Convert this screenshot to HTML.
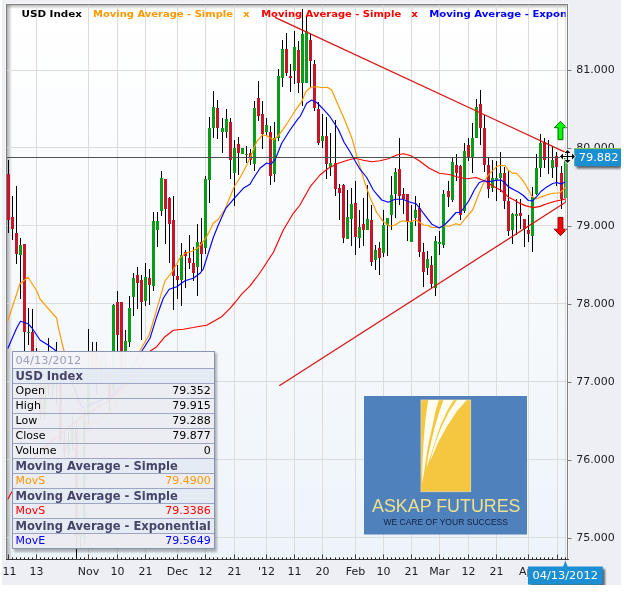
<!DOCTYPE html>
<html lang="en"><head><meta charset="utf-8"><title>USD Index chart</title>
<style>html,body{margin:0;padding:0;background:#fff}svg{display:block}text{font-family:'DejaVu Sans','Liberation Sans',sans-serif}</style></head><body>
<svg width="624" height="594" viewBox="0 0 624 594">
<defs>
<linearGradient id="bg" x1="0" y1="0" x2="0" y2="1"><stop offset="0" stop-color="#ffffff"/><stop offset="0.4" stop-color="#f9fbfd"/><stop offset="1" stop-color="#edf4fa"/></linearGradient>
<linearGradient id="sl" x1="0" y1="0" x2="1" y2="0"><stop offset="0" stop-color="#8c8c8c" stop-opacity="0.7"/><stop offset="1" stop-color="#8c8c8c" stop-opacity="0"/></linearGradient>
<linearGradient id="st" x1="0" y1="0" x2="0" y2="1"><stop offset="0" stop-color="#8c8c8c" stop-opacity="0.6"/><stop offset="1" stop-color="#8c8c8c" stop-opacity="0"/></linearGradient>
<clipPath id="plot"><rect x="7" y="5" width="560" height="554"/></clipPath>
<clipPath id="tip"><rect x="13" y="352" width="201" height="196"/></clipPath>
<filter id="sh" x="-20%" y="-20%" width="150%" height="160%"><feGaussianBlur stdDeviation="1.2"/></filter>
</defs>
<rect x="0" y="0" width="624" height="594" fill="#ffffff"/>
<rect x="2" y="0" width="619" height="585" fill="#eeeff5"/>
<rect x="5" y="3" width="564" height="557" fill="#f6f7fb"/>
<rect x="6" y="4" width="562" height="556" fill="url(#bg)"/>
<rect x="7" y="5" width="5" height="554" fill="url(#sl)"/>
<rect x="7" y="5" width="560" height="4" fill="url(#st)"/>
<g shape-rendering="crispEdges" fill="#dcdcdc">
<rect x="36" y="5" width="1" height="554"/>
<rect x="88" y="5" width="1" height="554"/>
<rect x="117" y="5" width="1" height="554"/>
<rect x="145" y="5" width="1" height="554"/>
<rect x="177" y="5" width="1" height="554"/>
<rect x="205" y="5" width="1" height="554"/>
<rect x="234" y="5" width="1" height="554"/>
<rect x="266" y="5" width="1" height="554"/>
<rect x="294" y="5" width="1" height="554"/>
<rect x="322" y="5" width="1" height="554"/>
<rect x="355" y="5" width="1" height="554"/>
<rect x="383" y="5" width="1" height="554"/>
<rect x="411" y="5" width="1" height="554"/>
<rect x="439" y="5" width="1" height="554"/>
<rect x="468" y="5" width="1" height="554"/>
<rect x="496" y="5" width="1" height="554"/>
<rect x="528" y="5" width="1" height="554"/>
<rect x="557" y="5" width="1" height="554"/>
<rect x="7" y="70" width="560" height="1"/>
<rect x="7" y="147" width="560" height="1"/>
<rect x="7" y="225" width="560" height="1"/>
<rect x="7" y="303" width="560" height="1"/>
<rect x="7" y="381" width="560" height="1"/>
<rect x="7" y="459" width="560" height="1"/>
<rect x="7" y="537" width="560" height="1"/>
</g>
<clipPath id="lg"><rect x="7" y="5" width="559" height="20"/></clipPath>
<g clip-path="url(#lg)" font-weight="bold" font-size="9.5px">
<text x="21.50" y="17" fill="#000000" textLength="60.5" lengthAdjust="spacingAndGlyphs">USD Index</text>
<text x="93.00" y="17" fill="#ff9900" textLength="140.0" lengthAdjust="spacingAndGlyphs">Moving Average - Simple</text>
<text x="243.00" y="17" fill="#ff9900" textLength="6.7" lengthAdjust="spacingAndGlyphs">x</text>
<text x="261.20" y="17" fill="#ff0000" textLength="140.0" lengthAdjust="spacingAndGlyphs">Moving Average - Simple</text>
<text x="411.20" y="17" fill="#ff0000" textLength="6.7" lengthAdjust="spacingAndGlyphs">x</text>
<text x="429.20" y="17" fill="#0000ff" textLength="170.8" lengthAdjust="spacingAndGlyphs">Moving Average - Exponential</text>
</g>
<g clip-path="url(#plot)" shape-rendering="crispEdges">
<rect x="8" y="160" width="1" height="73" fill="#000"/>
<rect x="7" y="174" width="3" height="46" fill="#c4152b"/>
<rect x="12" y="196" width="1" height="44" fill="#000"/>
<rect x="11" y="217" width="3" height="12" fill="#c4152b"/>
<rect x="16" y="186" width="1" height="78" fill="#000"/>
<rect x="15" y="233" width="3" height="21" fill="#c4152b"/>
<rect x="20" y="238" width="1" height="61" fill="#000"/>
<rect x="19" y="245" width="3" height="10" fill="#0a9c18"/>
<rect x="24" y="244" width="1" height="118" fill="#000"/>
<rect x="23" y="244" width="3" height="88" fill="#c4152b"/>
<rect x="28" y="308" width="1" height="37" fill="#000"/>
<rect x="27" y="332" width="3" height="1" fill="#0a9c18"/>
<rect x="32" y="309" width="1" height="76" fill="#000"/>
<rect x="31" y="332" width="3" height="48" fill="#c4152b"/>
<rect x="36" y="348" width="1" height="42" fill="#000"/>
<rect x="35" y="370" width="3" height="10" fill="#0a9c18"/>
<rect x="40" y="380" width="1" height="40" fill="#000"/>
<rect x="39" y="384" width="3" height="31" fill="#c4152b"/>
<rect x="44" y="380" width="1" height="40" fill="#000"/>
<rect x="43" y="385" width="3" height="30" fill="#0a9c18"/>
<rect x="48" y="338" width="1" height="57" fill="#000"/>
<rect x="47" y="378" width="3" height="10" fill="#c4152b"/>
<rect x="52" y="368" width="1" height="32" fill="#000"/>
<rect x="51" y="378" width="3" height="8" fill="#0a9c18"/>
<rect x="56" y="342" width="1" height="63" fill="#000"/>
<rect x="55" y="380" width="3" height="4" fill="#0a9c18"/>
<rect x="60" y="375" width="1" height="70" fill="#000"/>
<rect x="59" y="384" width="3" height="56" fill="#c4152b"/>
<rect x="64" y="430" width="1" height="28" fill="#000"/>
<rect x="63" y="440" width="3" height="12" fill="#c4152b"/>
<rect x="68" y="432" width="1" height="30" fill="#000"/>
<rect x="67" y="440" width="3" height="10" fill="#0a9c18"/>
<rect x="72" y="415" width="1" height="35" fill="#000"/>
<rect x="71" y="428" width="3" height="14" fill="#0a9c18"/>
<rect x="76" y="420" width="1" height="139" fill="#000"/>
<rect x="75" y="428" width="3" height="108" fill="#c4152b"/>
<rect x="80" y="522" width="1" height="26" fill="#000"/>
<rect x="79" y="532" width="3" height="5" fill="#0a9c18"/>
<rect x="84" y="410" width="1" height="135" fill="#000"/>
<rect x="83" y="417" width="3" height="121" fill="#0a9c18"/>
<rect x="88" y="329" width="1" height="96" fill="#000"/>
<rect x="87" y="370" width="3" height="47" fill="#0a9c18"/>
<rect x="92" y="342" width="1" height="43" fill="#000"/>
<rect x="91" y="352" width="3" height="18" fill="#c4152b"/>
<rect x="96" y="342" width="1" height="53" fill="#000"/>
<rect x="95" y="355" width="3" height="17" fill="#c4152b"/>
<rect x="101" y="355" width="1" height="30" fill="#000"/>
<rect x="100" y="362" width="3" height="10" fill="#0a9c18"/>
<rect x="105" y="352" width="1" height="33" fill="#000"/>
<rect x="104" y="365" width="3" height="7" fill="#c4152b"/>
<rect x="109" y="365" width="1" height="45" fill="#000"/>
<rect x="108" y="372" width="3" height="28" fill="#c4152b"/>
<rect x="113" y="304" width="1" height="91" fill="#000"/>
<rect x="112" y="305" width="3" height="85" fill="#0a9c18"/>
<rect x="117" y="291" width="1" height="64" fill="#000"/>
<rect x="116" y="302" width="3" height="33" fill="#c4152b"/>
<rect x="121" y="302" width="1" height="70" fill="#000"/>
<rect x="120" y="302" width="3" height="66" fill="#c4152b"/>
<rect x="125" y="330" width="1" height="40" fill="#000"/>
<rect x="124" y="341" width="3" height="24" fill="#0a9c18"/>
<rect x="129" y="296" width="1" height="51" fill="#000"/>
<rect x="128" y="308" width="3" height="34" fill="#0a9c18"/>
<rect x="133" y="273" width="1" height="43" fill="#000"/>
<rect x="132" y="278" width="3" height="19" fill="#0a9c18"/>
<rect x="137" y="267" width="1" height="42" fill="#000"/>
<rect x="136" y="275" width="3" height="8" fill="#c4152b"/>
<rect x="141" y="275" width="1" height="65" fill="#000"/>
<rect x="140" y="280" width="3" height="22" fill="#c4152b"/>
<rect x="145" y="263" width="1" height="43" fill="#000"/>
<rect x="144" y="277" width="3" height="24" fill="#0a9c18"/>
<rect x="149" y="269" width="1" height="36" fill="#000"/>
<rect x="148" y="278" width="3" height="7" fill="#c4152b"/>
<rect x="153" y="212" width="1" height="79" fill="#000"/>
<rect x="152" y="221" width="3" height="65" fill="#0a9c18"/>
<rect x="157" y="212" width="1" height="35" fill="#000"/>
<rect x="156" y="221" width="3" height="9" fill="#0a9c18"/>
<rect x="161" y="171" width="1" height="45" fill="#000"/>
<rect x="160" y="178" width="3" height="33" fill="#0a9c18"/>
<rect x="165" y="179" width="1" height="65" fill="#000"/>
<rect x="164" y="179" width="3" height="30" fill="#c4152b"/>
<rect x="169" y="197" width="1" height="66" fill="#000"/>
<rect x="168" y="198" width="3" height="26" fill="#c4152b"/>
<rect x="173" y="196" width="1" height="114" fill="#000"/>
<rect x="172" y="220" width="3" height="56" fill="#c4152b"/>
<rect x="177" y="265" width="1" height="34" fill="#000"/>
<rect x="176" y="276" width="3" height="4" fill="#c4152b"/>
<rect x="181" y="243" width="1" height="63" fill="#000"/>
<rect x="180" y="255" width="3" height="25" fill="#0a9c18"/>
<rect x="185" y="250" width="1" height="38" fill="#000"/>
<rect x="184" y="252" width="3" height="4" fill="#c4152b"/>
<rect x="189" y="235" width="1" height="34" fill="#000"/>
<rect x="188" y="258" width="3" height="5" fill="#c4152b"/>
<rect x="193" y="247" width="1" height="34" fill="#000"/>
<rect x="192" y="263" width="3" height="10" fill="#c4152b"/>
<rect x="197" y="224" width="1" height="72" fill="#000"/>
<rect x="196" y="242" width="3" height="25" fill="#0a9c18"/>
<rect x="201" y="218" width="1" height="53" fill="#000"/>
<rect x="200" y="242" width="3" height="12" fill="#c4152b"/>
<rect x="205" y="176" width="1" height="78" fill="#000"/>
<rect x="204" y="179" width="3" height="69" fill="#0a9c18"/>
<rect x="209" y="117" width="1" height="86" fill="#000"/>
<rect x="208" y="128" width="3" height="52" fill="#0a9c18"/>
<rect x="213" y="91" width="1" height="47" fill="#000"/>
<rect x="212" y="107" width="3" height="21" fill="#0a9c18"/>
<rect x="217" y="100" width="1" height="39" fill="#000"/>
<rect x="216" y="108" width="3" height="20" fill="#c4152b"/>
<rect x="222" y="118" width="1" height="35" fill="#000"/>
<rect x="221" y="128" width="3" height="4" fill="#0a9c18"/>
<rect x="226" y="109" width="1" height="29" fill="#000"/>
<rect x="225" y="119" width="3" height="13" fill="#0a9c18"/>
<rect x="230" y="118" width="1" height="61" fill="#000"/>
<rect x="229" y="122" width="3" height="38" fill="#c4152b"/>
<rect x="234" y="140" width="1" height="66" fill="#000"/>
<rect x="233" y="148" width="3" height="25" fill="#0a9c18"/>
<rect x="238" y="137" width="1" height="38" fill="#000"/>
<rect x="237" y="144" width="3" height="9" fill="#c4152b"/>
<rect x="242" y="148" width="1" height="6" fill="#000"/>
<rect x="241" y="148" width="3" height="6" fill="#0a9c18"/>
<rect x="246" y="146" width="1" height="17" fill="#000"/>
<rect x="245" y="154" width="3" height="1" fill="#0a9c18"/>
<rect x="250" y="149" width="1" height="16" fill="#000"/>
<rect x="249" y="153" width="3" height="7" fill="#c4152b"/>
<rect x="254" y="101" width="1" height="70" fill="#000"/>
<rect x="253" y="108" width="3" height="56" fill="#0a9c18"/>
<rect x="258" y="81" width="1" height="40" fill="#000"/>
<rect x="257" y="98" width="3" height="18" fill="#c4152b"/>
<rect x="262" y="101" width="1" height="48" fill="#000"/>
<rect x="261" y="114" width="3" height="20" fill="#c4152b"/>
<rect x="266" y="118" width="1" height="17" fill="#000"/>
<rect x="265" y="125" width="3" height="7" fill="#0a9c18"/>
<rect x="270" y="126" width="1" height="59" fill="#000"/>
<rect x="269" y="132" width="3" height="44" fill="#c4152b"/>
<rect x="274" y="122" width="1" height="60" fill="#000"/>
<rect x="273" y="138" width="3" height="36" fill="#0a9c18"/>
<rect x="278" y="69" width="1" height="72" fill="#000"/>
<rect x="277" y="76" width="3" height="62" fill="#0a9c18"/>
<rect x="282" y="40" width="1" height="47" fill="#000"/>
<rect x="281" y="49" width="3" height="29" fill="#0a9c18"/>
<rect x="286" y="33" width="1" height="43" fill="#000"/>
<rect x="285" y="49" width="3" height="24" fill="#c4152b"/>
<rect x="290" y="64" width="1" height="28" fill="#000"/>
<rect x="289" y="76" width="3" height="2" fill="#c4152b"/>
<rect x="294" y="31" width="1" height="53" fill="#000"/>
<rect x="293" y="47" width="3" height="24" fill="#0a9c18"/>
<rect x="298" y="41" width="1" height="52" fill="#000"/>
<rect x="297" y="50" width="3" height="33" fill="#c4152b"/>
<rect x="302" y="9" width="1" height="97" fill="#000"/>
<rect x="301" y="34" width="3" height="49" fill="#0a9c18"/>
<rect x="306" y="17" width="1" height="66" fill="#000"/>
<rect x="305" y="31" width="3" height="52" fill="#0a9c18"/>
<rect x="310" y="34" width="1" height="53" fill="#000"/>
<rect x="309" y="40" width="3" height="21" fill="#c4152b"/>
<rect x="314" y="60" width="1" height="51" fill="#000"/>
<rect x="313" y="64" width="3" height="44" fill="#c4152b"/>
<rect x="318" y="102" width="1" height="43" fill="#000"/>
<rect x="317" y="109" width="3" height="34" fill="#c4152b"/>
<rect x="322" y="114" width="1" height="34" fill="#000"/>
<rect x="321" y="136" width="3" height="5" fill="#0a9c18"/>
<rect x="326" y="117" width="1" height="62" fill="#000"/>
<rect x="325" y="136" width="3" height="28" fill="#c4152b"/>
<rect x="330" y="133" width="1" height="43" fill="#000"/>
<rect x="329" y="163" width="3" height="4" fill="#0a9c18"/>
<rect x="335" y="120" width="1" height="76" fill="#000"/>
<rect x="334" y="163" width="3" height="26" fill="#c4152b"/>
<rect x="339" y="184" width="1" height="36" fill="#000"/>
<rect x="338" y="188" width="3" height="5" fill="#c4152b"/>
<rect x="343" y="184" width="1" height="59" fill="#000"/>
<rect x="342" y="185" width="3" height="53" fill="#c4152b"/>
<rect x="347" y="190" width="1" height="49" fill="#000"/>
<rect x="346" y="217" width="3" height="22" fill="#0a9c18"/>
<rect x="351" y="188" width="1" height="58" fill="#000"/>
<rect x="350" y="204" width="3" height="15" fill="#0a9c18"/>
<rect x="355" y="181" width="1" height="74" fill="#000"/>
<rect x="354" y="203" width="3" height="34" fill="#c4152b"/>
<rect x="359" y="210" width="1" height="38" fill="#000"/>
<rect x="358" y="227" width="3" height="11" fill="#0a9c18"/>
<rect x="363" y="198" width="1" height="48" fill="#000"/>
<rect x="362" y="224" width="3" height="6" fill="#c4152b"/>
<rect x="367" y="185" width="1" height="45" fill="#000"/>
<rect x="366" y="219" width="3" height="11" fill="#0a9c18"/>
<rect x="371" y="205" width="1" height="61" fill="#000"/>
<rect x="370" y="220" width="3" height="42" fill="#c4152b"/>
<rect x="375" y="245" width="1" height="25" fill="#000"/>
<rect x="374" y="250" width="3" height="10" fill="#0a9c18"/>
<rect x="379" y="242" width="1" height="33" fill="#000"/>
<rect x="378" y="248" width="3" height="10" fill="#c4152b"/>
<rect x="383" y="210" width="1" height="47" fill="#000"/>
<rect x="382" y="225" width="3" height="28" fill="#0a9c18"/>
<rect x="387" y="218" width="1" height="38" fill="#000"/>
<rect x="386" y="218" width="3" height="7" fill="#0a9c18"/>
<rect x="391" y="176" width="1" height="54" fill="#000"/>
<rect x="390" y="195" width="3" height="20" fill="#0a9c18"/>
<rect x="395" y="168" width="1" height="50" fill="#000"/>
<rect x="394" y="172" width="3" height="22" fill="#0a9c18"/>
<rect x="399" y="138" width="1" height="67" fill="#000"/>
<rect x="398" y="169" width="3" height="27" fill="#c4152b"/>
<rect x="403" y="188" width="1" height="26" fill="#000"/>
<rect x="402" y="194" width="3" height="5" fill="#c4152b"/>
<rect x="407" y="194" width="1" height="47" fill="#000"/>
<rect x="406" y="194" width="3" height="28" fill="#c4152b"/>
<rect x="411" y="205" width="1" height="37" fill="#000"/>
<rect x="410" y="222" width="3" height="20" fill="#0a9c18"/>
<rect x="415" y="196" width="1" height="30" fill="#000"/>
<rect x="414" y="210" width="3" height="8" fill="#0a9c18"/>
<rect x="419" y="203" width="1" height="54" fill="#000"/>
<rect x="418" y="208" width="3" height="44" fill="#c4152b"/>
<rect x="423" y="243" width="1" height="44" fill="#000"/>
<rect x="422" y="252" width="3" height="20" fill="#c4152b"/>
<rect x="427" y="251" width="1" height="24" fill="#000"/>
<rect x="426" y="259" width="3" height="9" fill="#0a9c18"/>
<rect x="431" y="256" width="1" height="32" fill="#000"/>
<rect x="430" y="265" width="3" height="19" fill="#c4152b"/>
<rect x="435" y="236" width="1" height="60" fill="#000"/>
<rect x="434" y="241" width="3" height="47" fill="#0a9c18"/>
<rect x="439" y="231" width="1" height="24" fill="#000"/>
<rect x="438" y="242" width="3" height="2" fill="#0a9c18"/>
<rect x="443" y="190" width="1" height="58" fill="#000"/>
<rect x="442" y="194" width="3" height="51" fill="#0a9c18"/>
<rect x="448" y="181" width="1" height="26" fill="#000"/>
<rect x="447" y="191" width="3" height="6" fill="#c4152b"/>
<rect x="452" y="158" width="1" height="44" fill="#000"/>
<rect x="451" y="162" width="3" height="38" fill="#0a9c18"/>
<rect x="456" y="154" width="1" height="27" fill="#000"/>
<rect x="455" y="165" width="3" height="8" fill="#c4152b"/>
<rect x="460" y="165" width="1" height="55" fill="#000"/>
<rect x="459" y="166" width="3" height="49" fill="#c4152b"/>
<rect x="464" y="143" width="1" height="70" fill="#000"/>
<rect x="463" y="151" width="3" height="60" fill="#0a9c18"/>
<rect x="468" y="138" width="1" height="23" fill="#000"/>
<rect x="467" y="145" width="3" height="12" fill="#c4152b"/>
<rect x="472" y="123" width="1" height="50" fill="#000"/>
<rect x="471" y="138" width="3" height="19" fill="#0a9c18"/>
<rect x="476" y="99" width="1" height="39" fill="#000"/>
<rect x="475" y="107" width="3" height="31" fill="#0a9c18"/>
<rect x="480" y="90" width="1" height="55" fill="#000"/>
<rect x="479" y="104" width="3" height="24" fill="#c4152b"/>
<rect x="484" y="115" width="1" height="57" fill="#000"/>
<rect x="483" y="128" width="3" height="37" fill="#c4152b"/>
<rect x="488" y="157" width="1" height="41" fill="#000"/>
<rect x="487" y="165" width="3" height="24" fill="#c4152b"/>
<rect x="492" y="160" width="1" height="32" fill="#000"/>
<rect x="491" y="178" width="3" height="10" fill="#0a9c18"/>
<rect x="496" y="161" width="1" height="40" fill="#000"/>
<rect x="495" y="178" width="3" height="2" fill="#0a9c18"/>
<rect x="500" y="152" width="1" height="40" fill="#000"/>
<rect x="499" y="173" width="3" height="5" fill="#0a9c18"/>
<rect x="504" y="167" width="1" height="42" fill="#000"/>
<rect x="503" y="173" width="3" height="28" fill="#c4152b"/>
<rect x="508" y="171" width="1" height="65" fill="#000"/>
<rect x="507" y="201" width="3" height="30" fill="#c4152b"/>
<rect x="512" y="213" width="1" height="31" fill="#000"/>
<rect x="511" y="214" width="3" height="16" fill="#0a9c18"/>
<rect x="516" y="199" width="1" height="36" fill="#000"/>
<rect x="515" y="214" width="3" height="2" fill="#0a9c18"/>
<rect x="520" y="199" width="1" height="30" fill="#000"/>
<rect x="519" y="213" width="3" height="3" fill="#c4152b"/>
<rect x="524" y="219" width="1" height="28" fill="#000"/>
<rect x="523" y="219" width="3" height="10" fill="#c4152b"/>
<rect x="528" y="215" width="1" height="27" fill="#000"/>
<rect x="527" y="230" width="3" height="4" fill="#c4152b"/>
<rect x="532" y="187" width="1" height="65" fill="#000"/>
<rect x="531" y="197" width="3" height="39" fill="#0a9c18"/>
<rect x="536" y="154" width="1" height="41" fill="#000"/>
<rect x="535" y="168" width="3" height="26" fill="#0a9c18"/>
<rect x="540" y="134" width="1" height="43" fill="#000"/>
<rect x="539" y="143" width="3" height="25" fill="#0a9c18"/>
<rect x="544" y="138" width="1" height="30" fill="#000"/>
<rect x="543" y="142" width="3" height="18" fill="#c4152b"/>
<rect x="548" y="140" width="1" height="34" fill="#000"/>
<rect x="552" y="147" width="1" height="31" fill="#000"/>
<rect x="551" y="160" width="3" height="8" fill="#0a9c18"/>
<rect x="556" y="152" width="1" height="34" fill="#000"/>
<rect x="555" y="156" width="3" height="11" fill="#c4152b"/>
<rect x="561" y="166" width="1" height="43" fill="#000"/>
<rect x="560" y="173" width="3" height="26" fill="#c4152b"/>
<rect x="565" y="154" width="1" height="49" fill="#000"/>
<rect x="564" y="157" width="3" height="41" fill="#0a9c18"/>
</g>
<g clip-path="url(#plot)">
<polyline points="8.0,499.0 10.0,495.0 30.0,462.0 48.0,444.0 82.0,417.0 110.0,400.0 130.0,380.0 150.0,351.3 156.7,346.7 165.0,336.7 173.3,330.3 183.3,329.2 193.3,327.5 200.0,326.2 206.7,325.3 221.7,316.7 230.0,308.3 235.0,302.5 241.7,294.2 250.0,285.8 258.3,275.0 262.5,269.0 268.3,260.0 273.3,252.5 283.3,230.0 293.3,213.3 300.0,205.0 303.3,199.0 310.8,185.8 320.0,175.0 328.3,168.3 338.3,163.3 348.3,160.0 355.0,158.3 363.3,160.3 371.7,161.7 380.0,160.8 388.3,158.8 396.7,155.0 403.5,153.7 411.0,155.8 419.3,160.8 429.3,168.3 439.3,173.3 449.3,174.5 459.3,177.5 467.7,178.7 476.0,177.5 484.3,180.8 488.0,182.8 492.2,185.4 496.4,187.9 500.6,190.0 504.8,193.8 509.0,197.6 513.3,199.6 520.0,203.4 525.9,205.9 533.5,207.6 540.0,206.4 546.8,203.7 555.3,201.2 565.5,199.1" fill="none" stroke="#ff0000" stroke-width="1.15" stroke-linejoin="round" stroke-linecap="round"/>
<polyline points="8.0,320.2 20.0,283.7 28.0,277.3 36.7,290.7 40.0,299.0 45.0,304.8 56.7,318.0 58.3,327.3 64.0,351.0 70.0,375.0 80.0,410.0 88.0,425.0 100.0,420.0 112.0,410.0 125.0,385.0 139.5,351.3 149.2,335.0 157.5,306.7 165.0,280.8 171.7,272.5 176.7,264.0 179.7,258.3 185.0,253.3 190.8,251.7 195.8,249.2 200.0,245.8 206.7,236.7 213.3,223.3 218.3,219.2 225.0,209.2 234.2,186.7 239.2,179.0 244.2,170.0 250.0,158.3 256.7,141.7 262.5,135.0 266.7,135.8 273.3,140.0 278.3,135.8 286.7,124.2 295.0,110.8 301.7,101.7 305.8,91.7 310.8,87.2 316.7,86.7 322.5,87.8 327.5,87.2 331.7,90.0 336.7,101.7 345.0,120.8 351.7,137.5 357.5,158.3 365.0,183.3 370.0,197.5 376.7,212.5 383.3,221.7 390.0,226.3 395.0,225.0 400.0,221.7 402.7,220.8 409.3,221.7 416.0,220.0 423.5,225.0 427.7,225.3 431.8,227.5 439.3,227.5 444.3,225.8 449.3,226.2 456.0,223.7 460.2,225.0 466.0,217.5 472.7,210.0 477.7,196.7 482.7,185.0 488.0,175.3 491.4,171.9 496.4,166.8 499.8,165.3 504.8,165.6 508.2,170.2 512.4,173.1 516.6,173.4 520.8,177.8 525.0,183.7 528.4,189.6 531.8,196.3 536.3,199.1 540.9,197.0 546.8,194.9 552.7,193.2 559.5,192.8 562.0,191.1 565.5,187.3" fill="none" stroke="#ff9900" stroke-width="1.15" stroke-linejoin="round" stroke-linecap="round"/>
<polyline points="8.0,348.0 16.7,328.0 20.5,321.2 28.0,323.7 32.0,328.0 40.0,340.0 48.0,345.0 55.0,350.0 64.0,365.0 73.0,384.0 82.0,408.0 97.7,401.6 113.0,395.0 125.0,380.0 141.7,351.3 150.0,338.3 156.7,316.7 163.3,298.3 169.2,289.2 176.7,286.7 185.0,280.8 193.3,278.3 200.0,273.3 203.3,269.0 213.3,237.5 218.3,225.0 225.8,208.3 234.2,198.3 243.3,188.3 250.0,184.2 253.0,179.0 260.0,168.3 266.7,163.0 270.8,164.2 275.0,160.0 281.7,143.3 290.0,130.0 298.3,118.3 300.0,116.7 306.7,103.3 311.7,100.0 316.7,102.5 323.3,109.2 330.0,116.7 338.3,129.2 344.2,142.5 350.0,151.7 355.0,160.8 360.0,169.2 366.7,177.5 373.3,190.0 376.7,194.2 381.7,200.0 388.3,202.2 395.0,199.2 402.7,199.2 411.0,202.5 416.0,203.7 421.0,210.0 426.0,216.7 431.8,224.2 439.3,228.0 444.3,225.0 449.3,220.0 456.0,212.5 460.2,212.5 464.3,207.5 469.3,200.0 474.3,190.0 479.3,182.5 484.3,180.8 488.0,181.6 492.2,181.1 496.4,180.3 500.6,180.1 504.0,182.0 508.2,186.6 513.3,189.6 518.3,192.1 523.4,195.5 528.4,200.5 532.6,200.9 536.7,196.6 540.9,191.5 546.8,186.9 552.7,183.5 556.9,182.5 560.7,183.9 565.5,182.0" fill="none" stroke="#0000ff" stroke-width="1.15" stroke-linejoin="round" stroke-linecap="round"/>
<line x1="275" y1="17.4" x2="565.5" y2="152.4" stroke="#d81414" stroke-width="1.25"/>
<line x1="279.3" y1="385.8" x2="565.5" y2="202.3" stroke="#d81414" stroke-width="1.25"/>
</g>
<path d="M560.5 121.3 L566.7 127.7 L562.9 127.7 L562.9 139.7 L558.1 139.7 L558.1 127.7 L554.3 127.7 Z" fill="#00ff00" stroke="#0a6a0a" stroke-width="1" stroke-linejoin="miter"/>
<path d="M560.5 235.7 L566.7 229.2 L562.9 229.2 L562.9 217.4 L558.1 217.4 L558.1 229.2 L554.3 229.2 Z" fill="#ff0000" stroke="#900000" stroke-width="1" stroke-linejoin="miter"/>
<rect x="565" y="5" width="1" height="554" fill="#c8c8c8" opacity="0.55" shape-rendering="crispEdges"/>
<rect x="566" y="5" width="1" height="554" fill="#ffffff" opacity="0.25" shape-rendering="crispEdges"/>
<rect x="7" y="157" width="556" height="1" fill="#505050" shape-rendering="crispEdges"/>
<g>
<rect x="364" y="396" width="163" height="138.5" fill="#4f81bd"/>
<rect x="421" y="400" width="49.7" height="91.7" fill="#f5c63f" stroke="#ead9a0" stroke-width="0.8"/>
<clipPath id="yl"><rect x="421" y="400" width="49.7" height="91.7"/></clipPath>
<g clip-path="url(#yl)" fill="#fffdf0">
<polygon points="428.4,399.5 426.5,411.2 424.8,426.3 423.6,441.5 422.8,456.6 422.3,471.8 422.2,483.0 424.2,471.8 426.3,456.6 428.9,441.5 432.4,426.3 435.5,411.2 439.0,399.5"/>
<polygon points="443.6,399.5 439.5,411.2 435.0,426.3 431.2,441.5 428.0,456.6 426.6,468.0 430.4,456.6 435.0,441.5 440.2,426.3 447.0,411.2 453.9,399.5"/>
<polygon points="457.2,399.5 449.3,411.2 441.8,426.3 435.7,441.5 432.0,453.5 430.4,461.0 433.4,453.5 438.7,441.5 447.0,426.3 456.9,411.2 467.2,399.5"/>
</g>
<text x="372" y="512.2" style="font-family:'Liberation Sans',sans-serif" font-size="18px" fill="#efe08e" textLength="148.5" lengthAdjust="spacingAndGlyphs">ASKAP FUTURES</text>
<text x="383.4" y="525.4" style="font-family:'Liberation Sans',sans-serif" font-size="8.6px" fill="#14213f" textLength="124.6" lengthAdjust="spacingAndGlyphs">WE CARE OF YOUR SUCCESS</text>
</g>
<g shape-rendering="crispEdges">
<rect x="6" y="4" width="562" height="1" fill="#808080"/>
<rect x="6" y="4" width="1" height="556" fill="#808080"/>
<rect x="567" y="4" width="1" height="556" fill="#808080"/>
<rect x="6" y="559" width="563" height="1" fill="#3a3a3a"/>
</g><g shape-rendering="crispEdges">
<rect x="8" y="555" width="1" height="4" fill="#222" opacity="0.85"/>
<rect x="8" y="554" width="1" height="1" fill="#222" opacity="0.45"/>
<rect x="12" y="558" width="1" height="1" fill="#111"/>
<rect x="12" y="557" width="1" height="1" fill="#111" opacity="0.55"/>
<rect x="16" y="558" width="1" height="1" fill="#111"/>
<rect x="16" y="557" width="1" height="1" fill="#111" opacity="0.55"/>
<rect x="20" y="558" width="1" height="1" fill="#111"/>
<rect x="20" y="557" width="1" height="1" fill="#111" opacity="0.55"/>
<rect x="24" y="558" width="1" height="1" fill="#111"/>
<rect x="24" y="557" width="1" height="1" fill="#111" opacity="0.55"/>
<rect x="28" y="558" width="1" height="1" fill="#111"/>
<rect x="28" y="557" width="1" height="1" fill="#111" opacity="0.55"/>
<rect x="32" y="558" width="1" height="1" fill="#111"/>
<rect x="32" y="557" width="1" height="1" fill="#111" opacity="0.55"/>
<rect x="36" y="555" width="1" height="4" fill="#222" opacity="0.85"/>
<rect x="36" y="554" width="1" height="1" fill="#222" opacity="0.45"/>
<rect x="40" y="558" width="1" height="1" fill="#111"/>
<rect x="40" y="557" width="1" height="1" fill="#111" opacity="0.55"/>
<rect x="44" y="558" width="1" height="1" fill="#111"/>
<rect x="44" y="557" width="1" height="1" fill="#111" opacity="0.55"/>
<rect x="48" y="558" width="1" height="1" fill="#111"/>
<rect x="48" y="557" width="1" height="1" fill="#111" opacity="0.55"/>
<rect x="52" y="558" width="1" height="1" fill="#111"/>
<rect x="52" y="557" width="1" height="1" fill="#111" opacity="0.55"/>
<rect x="56" y="558" width="1" height="1" fill="#111"/>
<rect x="56" y="557" width="1" height="1" fill="#111" opacity="0.55"/>
<rect x="60" y="558" width="1" height="1" fill="#111"/>
<rect x="60" y="557" width="1" height="1" fill="#111" opacity="0.55"/>
<rect x="64" y="558" width="1" height="1" fill="#111"/>
<rect x="64" y="557" width="1" height="1" fill="#111" opacity="0.55"/>
<rect x="68" y="558" width="1" height="1" fill="#111"/>
<rect x="68" y="557" width="1" height="1" fill="#111" opacity="0.55"/>
<rect x="72" y="558" width="1" height="1" fill="#111"/>
<rect x="72" y="557" width="1" height="1" fill="#111" opacity="0.55"/>
<rect x="76" y="558" width="1" height="1" fill="#111"/>
<rect x="76" y="557" width="1" height="1" fill="#111" opacity="0.55"/>
<rect x="80" y="558" width="1" height="1" fill="#111"/>
<rect x="80" y="557" width="1" height="1" fill="#111" opacity="0.55"/>
<rect x="84" y="558" width="1" height="1" fill="#111"/>
<rect x="84" y="557" width="1" height="1" fill="#111" opacity="0.55"/>
<rect x="88" y="555" width="1" height="4" fill="#222" opacity="0.85"/>
<rect x="88" y="554" width="1" height="1" fill="#222" opacity="0.45"/>
<rect x="92" y="558" width="1" height="1" fill="#111"/>
<rect x="92" y="557" width="1" height="1" fill="#111" opacity="0.55"/>
<rect x="96" y="558" width="1" height="1" fill="#111"/>
<rect x="96" y="557" width="1" height="1" fill="#111" opacity="0.55"/>
<rect x="101" y="558" width="1" height="1" fill="#111"/>
<rect x="101" y="557" width="1" height="1" fill="#111" opacity="0.55"/>
<rect x="105" y="558" width="1" height="1" fill="#111"/>
<rect x="105" y="557" width="1" height="1" fill="#111" opacity="0.55"/>
<rect x="109" y="558" width="1" height="1" fill="#111"/>
<rect x="109" y="557" width="1" height="1" fill="#111" opacity="0.55"/>
<rect x="113" y="558" width="1" height="1" fill="#111"/>
<rect x="113" y="557" width="1" height="1" fill="#111" opacity="0.55"/>
<rect x="117" y="555" width="1" height="4" fill="#222" opacity="0.85"/>
<rect x="117" y="554" width="1" height="1" fill="#222" opacity="0.45"/>
<rect x="121" y="558" width="1" height="1" fill="#111"/>
<rect x="121" y="557" width="1" height="1" fill="#111" opacity="0.55"/>
<rect x="125" y="558" width="1" height="1" fill="#111"/>
<rect x="125" y="557" width="1" height="1" fill="#111" opacity="0.55"/>
<rect x="129" y="558" width="1" height="1" fill="#111"/>
<rect x="129" y="557" width="1" height="1" fill="#111" opacity="0.55"/>
<rect x="133" y="558" width="1" height="1" fill="#111"/>
<rect x="133" y="557" width="1" height="1" fill="#111" opacity="0.55"/>
<rect x="137" y="558" width="1" height="1" fill="#111"/>
<rect x="137" y="557" width="1" height="1" fill="#111" opacity="0.55"/>
<rect x="141" y="558" width="1" height="1" fill="#111"/>
<rect x="141" y="557" width="1" height="1" fill="#111" opacity="0.55"/>
<rect x="145" y="555" width="1" height="4" fill="#222" opacity="0.85"/>
<rect x="145" y="554" width="1" height="1" fill="#222" opacity="0.45"/>
<rect x="149" y="558" width="1" height="1" fill="#111"/>
<rect x="149" y="557" width="1" height="1" fill="#111" opacity="0.55"/>
<rect x="153" y="558" width="1" height="1" fill="#111"/>
<rect x="153" y="557" width="1" height="1" fill="#111" opacity="0.55"/>
<rect x="157" y="558" width="1" height="1" fill="#111"/>
<rect x="157" y="557" width="1" height="1" fill="#111" opacity="0.55"/>
<rect x="161" y="558" width="1" height="1" fill="#111"/>
<rect x="161" y="557" width="1" height="1" fill="#111" opacity="0.55"/>
<rect x="165" y="558" width="1" height="1" fill="#111"/>
<rect x="165" y="557" width="1" height="1" fill="#111" opacity="0.55"/>
<rect x="169" y="558" width="1" height="1" fill="#111"/>
<rect x="169" y="557" width="1" height="1" fill="#111" opacity="0.55"/>
<rect x="173" y="558" width="1" height="1" fill="#111"/>
<rect x="173" y="557" width="1" height="1" fill="#111" opacity="0.55"/>
<rect x="177" y="555" width="1" height="4" fill="#222" opacity="0.85"/>
<rect x="177" y="554" width="1" height="1" fill="#222" opacity="0.45"/>
<rect x="181" y="558" width="1" height="1" fill="#111"/>
<rect x="181" y="557" width="1" height="1" fill="#111" opacity="0.55"/>
<rect x="185" y="558" width="1" height="1" fill="#111"/>
<rect x="185" y="557" width="1" height="1" fill="#111" opacity="0.55"/>
<rect x="189" y="558" width="1" height="1" fill="#111"/>
<rect x="189" y="557" width="1" height="1" fill="#111" opacity="0.55"/>
<rect x="193" y="558" width="1" height="1" fill="#111"/>
<rect x="193" y="557" width="1" height="1" fill="#111" opacity="0.55"/>
<rect x="197" y="558" width="1" height="1" fill="#111"/>
<rect x="197" y="557" width="1" height="1" fill="#111" opacity="0.55"/>
<rect x="201" y="558" width="1" height="1" fill="#111"/>
<rect x="201" y="557" width="1" height="1" fill="#111" opacity="0.55"/>
<rect x="205" y="555" width="1" height="4" fill="#222" opacity="0.85"/>
<rect x="205" y="554" width="1" height="1" fill="#222" opacity="0.45"/>
<rect x="209" y="558" width="1" height="1" fill="#111"/>
<rect x="209" y="557" width="1" height="1" fill="#111" opacity="0.55"/>
<rect x="213" y="558" width="1" height="1" fill="#111"/>
<rect x="213" y="557" width="1" height="1" fill="#111" opacity="0.55"/>
<rect x="217" y="558" width="1" height="1" fill="#111"/>
<rect x="217" y="557" width="1" height="1" fill="#111" opacity="0.55"/>
<rect x="222" y="558" width="1" height="1" fill="#111"/>
<rect x="222" y="557" width="1" height="1" fill="#111" opacity="0.55"/>
<rect x="226" y="558" width="1" height="1" fill="#111"/>
<rect x="226" y="557" width="1" height="1" fill="#111" opacity="0.55"/>
<rect x="230" y="558" width="1" height="1" fill="#111"/>
<rect x="230" y="557" width="1" height="1" fill="#111" opacity="0.55"/>
<rect x="234" y="555" width="1" height="4" fill="#222" opacity="0.85"/>
<rect x="234" y="554" width="1" height="1" fill="#222" opacity="0.45"/>
<rect x="238" y="558" width="1" height="1" fill="#111"/>
<rect x="238" y="557" width="1" height="1" fill="#111" opacity="0.55"/>
<rect x="242" y="558" width="1" height="1" fill="#111"/>
<rect x="242" y="557" width="1" height="1" fill="#111" opacity="0.55"/>
<rect x="246" y="558" width="1" height="1" fill="#111"/>
<rect x="246" y="557" width="1" height="1" fill="#111" opacity="0.55"/>
<rect x="250" y="558" width="1" height="1" fill="#111"/>
<rect x="250" y="557" width="1" height="1" fill="#111" opacity="0.55"/>
<rect x="254" y="558" width="1" height="1" fill="#111"/>
<rect x="254" y="557" width="1" height="1" fill="#111" opacity="0.55"/>
<rect x="258" y="558" width="1" height="1" fill="#111"/>
<rect x="258" y="557" width="1" height="1" fill="#111" opacity="0.55"/>
<rect x="262" y="558" width="1" height="1" fill="#111"/>
<rect x="262" y="557" width="1" height="1" fill="#111" opacity="0.55"/>
<rect x="266" y="555" width="1" height="4" fill="#222" opacity="0.85"/>
<rect x="266" y="554" width="1" height="1" fill="#222" opacity="0.45"/>
<rect x="270" y="558" width="1" height="1" fill="#111"/>
<rect x="270" y="557" width="1" height="1" fill="#111" opacity="0.55"/>
<rect x="274" y="558" width="1" height="1" fill="#111"/>
<rect x="274" y="557" width="1" height="1" fill="#111" opacity="0.55"/>
<rect x="278" y="558" width="1" height="1" fill="#111"/>
<rect x="278" y="557" width="1" height="1" fill="#111" opacity="0.55"/>
<rect x="282" y="558" width="1" height="1" fill="#111"/>
<rect x="282" y="557" width="1" height="1" fill="#111" opacity="0.55"/>
<rect x="286" y="558" width="1" height="1" fill="#111"/>
<rect x="286" y="557" width="1" height="1" fill="#111" opacity="0.55"/>
<rect x="290" y="558" width="1" height="1" fill="#111"/>
<rect x="290" y="557" width="1" height="1" fill="#111" opacity="0.55"/>
<rect x="294" y="555" width="1" height="4" fill="#222" opacity="0.85"/>
<rect x="294" y="554" width="1" height="1" fill="#222" opacity="0.45"/>
<rect x="298" y="558" width="1" height="1" fill="#111"/>
<rect x="298" y="557" width="1" height="1" fill="#111" opacity="0.55"/>
<rect x="302" y="558" width="1" height="1" fill="#111"/>
<rect x="302" y="557" width="1" height="1" fill="#111" opacity="0.55"/>
<rect x="306" y="558" width="1" height="1" fill="#111"/>
<rect x="306" y="557" width="1" height="1" fill="#111" opacity="0.55"/>
<rect x="310" y="558" width="1" height="1" fill="#111"/>
<rect x="310" y="557" width="1" height="1" fill="#111" opacity="0.55"/>
<rect x="314" y="558" width="1" height="1" fill="#111"/>
<rect x="314" y="557" width="1" height="1" fill="#111" opacity="0.55"/>
<rect x="318" y="558" width="1" height="1" fill="#111"/>
<rect x="318" y="557" width="1" height="1" fill="#111" opacity="0.55"/>
<rect x="322" y="555" width="1" height="4" fill="#222" opacity="0.85"/>
<rect x="322" y="554" width="1" height="1" fill="#222" opacity="0.45"/>
<rect x="326" y="558" width="1" height="1" fill="#111"/>
<rect x="326" y="557" width="1" height="1" fill="#111" opacity="0.55"/>
<rect x="330" y="558" width="1" height="1" fill="#111"/>
<rect x="330" y="557" width="1" height="1" fill="#111" opacity="0.55"/>
<rect x="335" y="558" width="1" height="1" fill="#111"/>
<rect x="335" y="557" width="1" height="1" fill="#111" opacity="0.55"/>
<rect x="339" y="558" width="1" height="1" fill="#111"/>
<rect x="339" y="557" width="1" height="1" fill="#111" opacity="0.55"/>
<rect x="343" y="558" width="1" height="1" fill="#111"/>
<rect x="343" y="557" width="1" height="1" fill="#111" opacity="0.55"/>
<rect x="347" y="558" width="1" height="1" fill="#111"/>
<rect x="347" y="557" width="1" height="1" fill="#111" opacity="0.55"/>
<rect x="351" y="558" width="1" height="1" fill="#111"/>
<rect x="351" y="557" width="1" height="1" fill="#111" opacity="0.55"/>
<rect x="355" y="555" width="1" height="4" fill="#222" opacity="0.85"/>
<rect x="355" y="554" width="1" height="1" fill="#222" opacity="0.45"/>
<rect x="359" y="558" width="1" height="1" fill="#111"/>
<rect x="359" y="557" width="1" height="1" fill="#111" opacity="0.55"/>
<rect x="363" y="558" width="1" height="1" fill="#111"/>
<rect x="363" y="557" width="1" height="1" fill="#111" opacity="0.55"/>
<rect x="367" y="558" width="1" height="1" fill="#111"/>
<rect x="367" y="557" width="1" height="1" fill="#111" opacity="0.55"/>
<rect x="371" y="558" width="1" height="1" fill="#111"/>
<rect x="371" y="557" width="1" height="1" fill="#111" opacity="0.55"/>
<rect x="375" y="558" width="1" height="1" fill="#111"/>
<rect x="375" y="557" width="1" height="1" fill="#111" opacity="0.55"/>
<rect x="379" y="558" width="1" height="1" fill="#111"/>
<rect x="379" y="557" width="1" height="1" fill="#111" opacity="0.55"/>
<rect x="383" y="555" width="1" height="4" fill="#222" opacity="0.85"/>
<rect x="383" y="554" width="1" height="1" fill="#222" opacity="0.45"/>
<rect x="387" y="558" width="1" height="1" fill="#111"/>
<rect x="387" y="557" width="1" height="1" fill="#111" opacity="0.55"/>
<rect x="391" y="558" width="1" height="1" fill="#111"/>
<rect x="391" y="557" width="1" height="1" fill="#111" opacity="0.55"/>
<rect x="395" y="558" width="1" height="1" fill="#111"/>
<rect x="395" y="557" width="1" height="1" fill="#111" opacity="0.55"/>
<rect x="399" y="558" width="1" height="1" fill="#111"/>
<rect x="399" y="557" width="1" height="1" fill="#111" opacity="0.55"/>
<rect x="403" y="558" width="1" height="1" fill="#111"/>
<rect x="403" y="557" width="1" height="1" fill="#111" opacity="0.55"/>
<rect x="407" y="558" width="1" height="1" fill="#111"/>
<rect x="407" y="557" width="1" height="1" fill="#111" opacity="0.55"/>
<rect x="411" y="555" width="1" height="4" fill="#222" opacity="0.85"/>
<rect x="411" y="554" width="1" height="1" fill="#222" opacity="0.45"/>
<rect x="415" y="558" width="1" height="1" fill="#111"/>
<rect x="415" y="557" width="1" height="1" fill="#111" opacity="0.55"/>
<rect x="419" y="558" width="1" height="1" fill="#111"/>
<rect x="419" y="557" width="1" height="1" fill="#111" opacity="0.55"/>
<rect x="423" y="558" width="1" height="1" fill="#111"/>
<rect x="423" y="557" width="1" height="1" fill="#111" opacity="0.55"/>
<rect x="427" y="558" width="1" height="1" fill="#111"/>
<rect x="427" y="557" width="1" height="1" fill="#111" opacity="0.55"/>
<rect x="431" y="558" width="1" height="1" fill="#111"/>
<rect x="431" y="557" width="1" height="1" fill="#111" opacity="0.55"/>
<rect x="435" y="558" width="1" height="1" fill="#111"/>
<rect x="435" y="557" width="1" height="1" fill="#111" opacity="0.55"/>
<rect x="439" y="555" width="1" height="4" fill="#222" opacity="0.85"/>
<rect x="439" y="554" width="1" height="1" fill="#222" opacity="0.45"/>
<rect x="443" y="558" width="1" height="1" fill="#111"/>
<rect x="443" y="557" width="1" height="1" fill="#111" opacity="0.55"/>
<rect x="448" y="558" width="1" height="1" fill="#111"/>
<rect x="448" y="557" width="1" height="1" fill="#111" opacity="0.55"/>
<rect x="452" y="558" width="1" height="1" fill="#111"/>
<rect x="452" y="557" width="1" height="1" fill="#111" opacity="0.55"/>
<rect x="456" y="558" width="1" height="1" fill="#111"/>
<rect x="456" y="557" width="1" height="1" fill="#111" opacity="0.55"/>
<rect x="460" y="558" width="1" height="1" fill="#111"/>
<rect x="460" y="557" width="1" height="1" fill="#111" opacity="0.55"/>
<rect x="464" y="558" width="1" height="1" fill="#111"/>
<rect x="464" y="557" width="1" height="1" fill="#111" opacity="0.55"/>
<rect x="468" y="555" width="1" height="4" fill="#222" opacity="0.85"/>
<rect x="468" y="554" width="1" height="1" fill="#222" opacity="0.45"/>
<rect x="472" y="558" width="1" height="1" fill="#111"/>
<rect x="472" y="557" width="1" height="1" fill="#111" opacity="0.55"/>
<rect x="476" y="558" width="1" height="1" fill="#111"/>
<rect x="476" y="557" width="1" height="1" fill="#111" opacity="0.55"/>
<rect x="480" y="558" width="1" height="1" fill="#111"/>
<rect x="480" y="557" width="1" height="1" fill="#111" opacity="0.55"/>
<rect x="484" y="558" width="1" height="1" fill="#111"/>
<rect x="484" y="557" width="1" height="1" fill="#111" opacity="0.55"/>
<rect x="488" y="558" width="1" height="1" fill="#111"/>
<rect x="488" y="557" width="1" height="1" fill="#111" opacity="0.55"/>
<rect x="492" y="558" width="1" height="1" fill="#111"/>
<rect x="492" y="557" width="1" height="1" fill="#111" opacity="0.55"/>
<rect x="496" y="555" width="1" height="4" fill="#222" opacity="0.85"/>
<rect x="496" y="554" width="1" height="1" fill="#222" opacity="0.45"/>
<rect x="500" y="558" width="1" height="1" fill="#111"/>
<rect x="500" y="557" width="1" height="1" fill="#111" opacity="0.55"/>
<rect x="504" y="558" width="1" height="1" fill="#111"/>
<rect x="504" y="557" width="1" height="1" fill="#111" opacity="0.55"/>
<rect x="508" y="558" width="1" height="1" fill="#111"/>
<rect x="508" y="557" width="1" height="1" fill="#111" opacity="0.55"/>
<rect x="512" y="558" width="1" height="1" fill="#111"/>
<rect x="512" y="557" width="1" height="1" fill="#111" opacity="0.55"/>
<rect x="516" y="558" width="1" height="1" fill="#111"/>
<rect x="516" y="557" width="1" height="1" fill="#111" opacity="0.55"/>
<rect x="520" y="558" width="1" height="1" fill="#111"/>
<rect x="520" y="557" width="1" height="1" fill="#111" opacity="0.55"/>
<rect x="524" y="558" width="1" height="1" fill="#111"/>
<rect x="524" y="557" width="1" height="1" fill="#111" opacity="0.55"/>
<rect x="528" y="555" width="1" height="4" fill="#222" opacity="0.85"/>
<rect x="528" y="554" width="1" height="1" fill="#222" opacity="0.45"/>
<rect x="532" y="558" width="1" height="1" fill="#111"/>
<rect x="532" y="557" width="1" height="1" fill="#111" opacity="0.55"/>
<rect x="536" y="558" width="1" height="1" fill="#111"/>
<rect x="536" y="557" width="1" height="1" fill="#111" opacity="0.55"/>
<rect x="540" y="558" width="1" height="1" fill="#111"/>
<rect x="540" y="557" width="1" height="1" fill="#111" opacity="0.55"/>
<rect x="544" y="558" width="1" height="1" fill="#111"/>
<rect x="544" y="557" width="1" height="1" fill="#111" opacity="0.55"/>
<rect x="548" y="558" width="1" height="1" fill="#111"/>
<rect x="548" y="557" width="1" height="1" fill="#111" opacity="0.55"/>
<rect x="552" y="558" width="1" height="1" fill="#111"/>
<rect x="552" y="557" width="1" height="1" fill="#111" opacity="0.55"/>
<rect x="557" y="555" width="1" height="4" fill="#222" opacity="0.85"/>
<rect x="557" y="554" width="1" height="1" fill="#222" opacity="0.45"/>
<rect x="561" y="558" width="1" height="1" fill="#111"/>
<rect x="561" y="557" width="1" height="1" fill="#111" opacity="0.55"/>
<rect x="565" y="558" width="1" height="1" fill="#111"/>
<rect x="565" y="557" width="1" height="1" fill="#111" opacity="0.55"/>
<rect x="568" y="70" width="3" height="1" fill="#7c7c7c"/>
<rect x="571" y="70" width="1" height="1" fill="#7c7c7c" opacity="0.5"/>
<rect x="568" y="148" width="3" height="1" fill="#7c7c7c"/>
<rect x="571" y="148" width="1" height="1" fill="#7c7c7c" opacity="0.5"/>
<rect x="568" y="226" width="3" height="1" fill="#7c7c7c"/>
<rect x="571" y="226" width="1" height="1" fill="#7c7c7c" opacity="0.5"/>
<rect x="568" y="304" width="3" height="1" fill="#7c7c7c"/>
<rect x="571" y="304" width="1" height="1" fill="#7c7c7c" opacity="0.5"/>
<rect x="568" y="382" width="3" height="1" fill="#7c7c7c"/>
<rect x="571" y="382" width="1" height="1" fill="#7c7c7c" opacity="0.5"/>
<rect x="568" y="460" width="3" height="1" fill="#7c7c7c"/>
<rect x="571" y="460" width="1" height="1" fill="#7c7c7c" opacity="0.5"/>
<rect x="568" y="538" width="3" height="1" fill="#7c7c7c"/>
<rect x="571" y="538" width="1" height="1" fill="#7c7c7c" opacity="0.5"/>
</g>
<text transform="translate(576.30,73.20) scale(1.100,1)" font-size="10px" fill="#1c1c24" text-anchor="start" font-weight="normal">81.000</text>
<text transform="translate(576.30,151.20) scale(1.100,1)" font-size="10px" fill="#1c1c24" text-anchor="start" font-weight="normal">80.000</text>
<text transform="translate(576.30,229.20) scale(1.100,1)" font-size="10px" fill="#1c1c24" text-anchor="start" font-weight="normal">79.000</text>
<text transform="translate(576.30,307.20) scale(1.100,1)" font-size="10px" fill="#1c1c24" text-anchor="start" font-weight="normal">78.000</text>
<text transform="translate(576.30,385.20) scale(1.100,1)" font-size="10px" fill="#1c1c24" text-anchor="start" font-weight="normal">77.000</text>
<text transform="translate(576.30,463.20) scale(1.100,1)" font-size="10px" fill="#1c1c24" text-anchor="start" font-weight="normal">76.000</text>
<text transform="translate(576.30,541.20) scale(1.100,1)" font-size="10px" fill="#1c1c24" text-anchor="start" font-weight="normal">75.000</text>
<text transform="translate(-0.6,575.0) scale(1.1,1)" font-size="10px" fill="#1c1c24">'11</text>
<text transform="translate(36.50,575.00) scale(1.100,1)" font-size="10px" fill="#1c1c24" text-anchor="middle" font-weight="normal">13</text>
<text transform="translate(88.50,575.00) scale(1.100,1)" font-size="10px" fill="#1c1c24" text-anchor="middle" font-weight="normal">Nov</text>
<text transform="translate(117.50,575.00) scale(1.100,1)" font-size="10px" fill="#1c1c24" text-anchor="middle" font-weight="normal">10</text>
<text transform="translate(145.50,575.00) scale(1.100,1)" font-size="10px" fill="#1c1c24" text-anchor="middle" font-weight="normal">21</text>
<text transform="translate(177.50,575.00) scale(1.100,1)" font-size="10px" fill="#1c1c24" text-anchor="middle" font-weight="normal">Dec</text>
<text transform="translate(205.50,575.00) scale(1.100,1)" font-size="10px" fill="#1c1c24" text-anchor="middle" font-weight="normal">12</text>
<text transform="translate(234.50,575.00) scale(1.100,1)" font-size="10px" fill="#1c1c24" text-anchor="middle" font-weight="normal">21</text>
<text transform="translate(266.50,575.00) scale(1.100,1)" font-size="10px" fill="#1c1c24" text-anchor="middle" font-weight="normal">'12</text>
<text transform="translate(294.50,575.00) scale(1.100,1)" font-size="10px" fill="#1c1c24" text-anchor="middle" font-weight="normal">11</text>
<text transform="translate(322.50,575.00) scale(1.100,1)" font-size="10px" fill="#1c1c24" text-anchor="middle" font-weight="normal">20</text>
<text transform="translate(355.50,575.00) scale(1.100,1)" font-size="10px" fill="#1c1c24" text-anchor="middle" font-weight="normal">Feb</text>
<text transform="translate(383.50,575.00) scale(1.100,1)" font-size="10px" fill="#1c1c24" text-anchor="middle" font-weight="normal">10</text>
<text transform="translate(411.50,575.00) scale(1.100,1)" font-size="10px" fill="#1c1c24" text-anchor="middle" font-weight="normal">21</text>
<text transform="translate(439.50,575.00) scale(1.100,1)" font-size="10px" fill="#1c1c24" text-anchor="middle" font-weight="normal">Mar</text>
<text transform="translate(468.50,575.00) scale(1.100,1)" font-size="10px" fill="#1c1c24" text-anchor="middle" font-weight="normal">12</text>
<text transform="translate(496.50,575.00) scale(1.100,1)" font-size="10px" fill="#1c1c24" text-anchor="middle" font-weight="normal">21</text>
<text transform="translate(528.50,575.00) scale(1.100,1)" font-size="10px" fill="#1c1c24" text-anchor="middle" font-weight="normal">Apr</text>
<g>
<rect x="14" y="353" width="203" height="199" fill="#000" opacity="0.28" filter="url(#sh)"/>
<rect x="12.5" y="351.5" width="202" height="197" fill="#f1f1f6" fill-opacity="0.93" stroke="#8896b4" stroke-width="1"/>
<g shape-rendering="crispEdges">
<rect x="13" y="352" width="201" height="16" fill="#f9f9fc" fill-opacity="0.6"/>
<rect x="13" y="369" width="201" height="15" fill="#e4eaf5" fill-opacity="0.8"/>
<rect x="13" y="459" width="201" height="15" fill="#e4eaf5" fill-opacity="0.8"/>
<rect x="13" y="489" width="201" height="15" fill="#e4eaf5" fill-opacity="0.8"/>
<rect x="13" y="519" width="201" height="15" fill="#e4eaf5" fill-opacity="0.8"/>
<rect x="13" y="368" width="201" height="1" fill="#9ca6c2"/>
<rect x="13" y="383" width="201" height="1" fill="#9ca6c2"/>
<rect x="13" y="398" width="201" height="1" fill="#9ca6c2"/>
<rect x="13" y="413" width="201" height="1" fill="#9ca6c2"/>
<rect x="13" y="428" width="201" height="1" fill="#9ca6c2"/>
<rect x="13" y="443" width="201" height="1" fill="#9ca6c2"/>
<rect x="13" y="458" width="201" height="1" fill="#9ca6c2"/>
<rect x="13" y="473" width="201" height="1" fill="#9ca6c2"/>
<rect x="13" y="488" width="201" height="1" fill="#9ca6c2"/>
<rect x="13" y="503" width="201" height="1" fill="#9ca6c2"/>
<rect x="13" y="518" width="201" height="1" fill="#9ca6c2"/>
<rect x="13" y="533" width="201" height="1" fill="#9ca6c2"/>
</g>
<text transform="translate(15.60,364.20) scale(1.140,1)" font-size="10px" fill="#9c9cbc" text-anchor="start" font-weight="normal">04/13/2012</text>
<text transform="translate(15.40,379.90) scale(1.008,1)" font-size="11.5px" fill="#46466a" text-anchor="start" font-weight="bold">USD Index</text>
<text transform="translate(15.60,394.20) scale(1.100,1)" font-size="10px" fill="#000000" text-anchor="start" font-weight="normal">Open</text>
<text transform="translate(210.80,394.20) scale(1.100,1)" font-size="10px" fill="#000000" text-anchor="end" font-weight="normal">79.352</text>
<text transform="translate(15.60,409.20) scale(1.100,1)" font-size="10px" fill="#000000" text-anchor="start" font-weight="normal">High</text>
<text transform="translate(210.80,409.20) scale(1.100,1)" font-size="10px" fill="#000000" text-anchor="end" font-weight="normal">79.915</text>
<text transform="translate(15.60,424.20) scale(1.100,1)" font-size="10px" fill="#000000" text-anchor="start" font-weight="normal">Low</text>
<text transform="translate(210.80,424.20) scale(1.100,1)" font-size="10px" fill="#000000" text-anchor="end" font-weight="normal">79.288</text>
<text transform="translate(15.60,439.20) scale(1.100,1)" font-size="10px" fill="#000000" text-anchor="start" font-weight="normal">Close</text>
<text transform="translate(210.80,439.20) scale(1.100,1)" font-size="10px" fill="#000000" text-anchor="end" font-weight="normal">79.877</text>
<text transform="translate(15.60,454.20) scale(1.100,1)" font-size="10px" fill="#000000" text-anchor="start" font-weight="normal">Volume</text>
<text transform="translate(210.80,454.20) scale(1.100,1)" font-size="10px" fill="#000000" text-anchor="end" font-weight="normal">0</text>
<text transform="translate(15.40,469.90) scale(1.008,1)" font-size="11.5px" fill="#46466a" text-anchor="start" font-weight="bold">Moving Average - Simple</text>
<text transform="translate(15.60,484.20) scale(1.100,1)" font-size="10px" fill="#ff9900" text-anchor="start" font-weight="normal">MovS</text>
<text transform="translate(210.80,484.20) scale(1.100,1)" font-size="10px" fill="#ff9900" text-anchor="end" font-weight="normal">79.4900</text>
<text transform="translate(15.40,499.90) scale(1.008,1)" font-size="11.5px" fill="#46466a" text-anchor="start" font-weight="bold">Moving Average - Simple</text>
<text transform="translate(15.60,514.20) scale(1.100,1)" font-size="10px" fill="#ff0000" text-anchor="start" font-weight="normal">MovS</text>
<text transform="translate(210.80,514.20) scale(1.100,1)" font-size="10px" fill="#ff0000" text-anchor="end" font-weight="normal">79.3386</text>
<text transform="translate(15.40,529.90) scale(1.008,1)" font-size="11.5px" fill="#46466a" text-anchor="start" font-weight="bold">Moving Average - Exponential</text>
<text transform="translate(15.60,544.20) scale(1.100,1)" font-size="10px" fill="#0000ff" text-anchor="start" font-weight="normal">MovE</text>
<text transform="translate(210.80,544.20) scale(1.100,1)" font-size="10px" fill="#0000ff" text-anchor="end" font-weight="normal">79.5649</text>
</g>
<rect x="576.5" y="151" width="44.5" height="17.5" fill="#000" opacity="0.6" filter="url(#sh)"/>
<rect x="574" y="148" width="47" height="18.2" fill="#1b8fd2"/>
<rect x="574" y="148" width="47" height="1" fill="#8cc84a" shape-rendering="crispEdges"/>
<rect x="574" y="148" width="1" height="18" fill="#6fb87a" opacity="0.8" shape-rendering="crispEdges"/>
<text transform="translate(578.70,161.00) scale(1.140,1)" font-size="10px" fill="#ffffff" text-anchor="start" font-weight="normal">79.882</text>
<rect x="530.5" y="569" width="74.5" height="17.5" fill="#000" opacity="0.6" filter="url(#sh)"/>
<path d="M528 566.6 L563.2 566.6 L565.4 560.6 L567.6 566.6 L602.8 566.6 L602.8 584.4 L528 584.4 Z" fill="#1b8fd2"/>
<text transform="translate(532.40,578.90) scale(1.140,1)" font-size="10px" fill="#ffffff" text-anchor="start" font-weight="normal">04/13/2012</text>
<g transform="translate(567.5,156.5)">
<path d="M-7.5 0 L-4.5 -3 L-4.5 -0.6 L-0.6 -0.6 L-0.6 -3.5 L-3 -3.5 L0 -6.5 L3 -3.5 L0.6 -3.5 L0.6 -0.6 L4.5 -0.6 L4.5 -3 L7.5 0 L4.5 3 L4.5 0.6 L0.6 0.6 L0.6 3.5 L3 3.5 L0 6.5 L-3 3.5 L-0.6 3.5 L-0.6 0.6 L-4.5 0.6 L-4.5 3 Z" fill="#000" stroke="#fff" stroke-width="1.6" stroke-linejoin="round" paint-order="stroke"/>
</g>
<rect x="621" y="0" width="3" height="594" fill="#fff"/>
<rect x="0" y="0" width="2" height="594" fill="#fff"/>
<rect x="0" y="585" width="624" height="9" fill="#fff"/>
</svg></body></html>
